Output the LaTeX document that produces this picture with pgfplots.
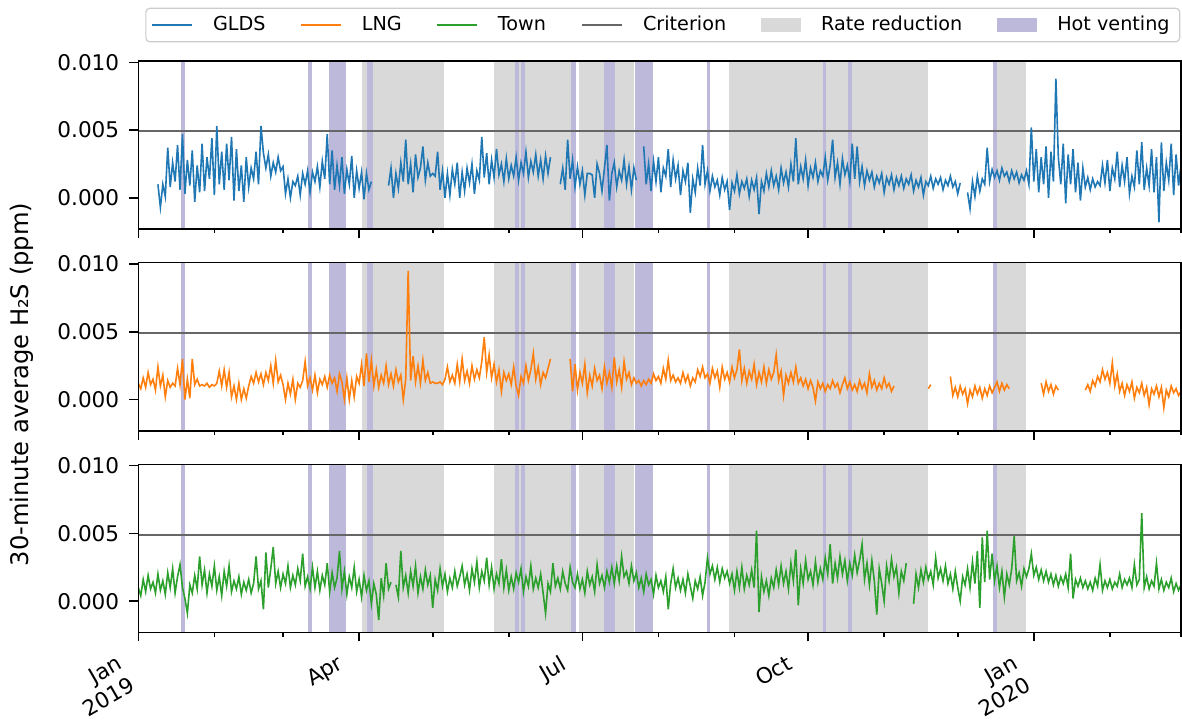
\documentclass[border=0pt]{standalone}
\usepackage{fontspec}
\setmainfont{DejaVu Sans}
\usepackage{pgfplots}
\usepackage{pgfplotstable}
\pgfplotsset{compat=1.18}

\definecolor{gldsblue}{HTML}{1F77B4}
\definecolor{lngorange}{HTML}{FF7F0E}
\definecolor{towngreen}{HTML}{2CA02C}
\definecolor{critgrey}{HTML}{666666}
\definecolor{ratefill}{HTML}{D9D9D9}
\definecolor{hotfill}{HTML}{BDB9DB}

% Daily 30-minute H2S levels (ppm); day 0 = 1 Jan 2019
\pgfplotstableread{
d g l t
0 nan 1.2e-3 1.0e-3
1 nan 0.8e-3 0.4e-3
2 nan 1.6e-3 1.6e-3
3 nan 0.9e-3 0.7e-3
4 nan 2.0e-3 1.9e-3
5 nan 1.1e-3 0.9e-3
6 nan 1.5e-3 1.4e-3
7 nan 0.7e-3 0.6e-3
8 1.0e-3 2.4e-3 2.0e-3
9 -0.7e-3 1.0e-3 0.8e-3
10 1.0e-3 1.8e-3 1.5e-3
11 0.1e-3 0.2e-3 0.5e-3
12 3.7e-3 1.4e-3 2.1e-3
13 0.8e-3 0.9e-3 1.0e-3
14 2.6e-3 1.2e-3 2.4e-3
15 1.2e-3 1.0e-3 0.6e-3
16 3.9e-3 2.3e-3 1.8e-3
17 0.6e-3 1.1e-3 2.7e-3
18 4.7e-3 3.0e-3 1.0e-3
19 0.3e-3 0.0e-3 0.2e-3
20 2.8e-3 1.5e-3 -0.9e-3
21 0.9e-3 0.1e-3 1.2e-3
22 3.5e-3 3.0e-3 0.6e-3
23 -0.3e-3 1.1e-3 1.9e-3
24 2.4e-3 1.5e-3 0.9e-3
25 0.4e-3 1.0e-3 3.3e-3
26 4.0e-3 1.1e-3 1.2e-3
27 0.5e-3 1.0e-3 2.3e-3
28 3.0e-3 1.2e-3 0.6e-3
29 1.4e-3 0.9e-3 2.0e-3
30 4.4e-3 1.1e-3 1.1e-3
31 0.2e-3 1.0e-3 2.6e-3
32 5.3e-3 1.2e-3 0.8e-3
33 1.0e-3 2.1e-3 1.8e-3
34 3.4e-3 1.0e-3 0.4e-3
35 0.6e-3 2.2e-3 2.2e-3
36 4.0e-3 0.9e-3 1.1e-3
37 1.3e-3 2.0e-3 2.6e-3
38 4.5e-3 0.2e-3 0.7e-3
39 -0.2e-3 1.0e-3 1.5e-3
40 3.6e-3 0.0e-3 0.9e-3
41 0.5e-3 1.2e-3 1.8e-3
42 2.4e-3 0.0e-3 0.5e-3
43 -0.3e-3 0.8e-3 1.4e-3
44 3.0e-3 0.1e-3 0.8e-3
45 0.8e-3 1.0e-3 1.6e-3
46 2.2e-3 1.7e-3 0.6e-3
47 1.4e-3 1.2e-3 1.3e-3
48 3.4e-3 2.0e-3 3.3e-3
49 1.0e-3 1.3e-3 0.9e-3
50 5.3e-3 1.9e-3 1.5e-3
51 3.3e-3 1.1e-3 -0.6e-3
52 2.2e-3 2.0e-3 3.6e-3
53 3.2e-3 1.4e-3 1.0e-3
54 1.6e-3 2.5e-3 2.4e-3
55 2.6e-3 1.2e-3 4.0e-3
56 1.9e-3 2.9e-3 1.3e-3
57 3.0e-3 1.3e-3 2.2e-3
58 2.0e-3 1.8e-3 1.0e-3
59 2.3e-3 1.1e-3 2.0e-3
60 0.3e-3 0.0e-3 1.3e-3
61 1.4e-3 1.2e-3 2.6e-3
62 0.0e-3 0.4e-3 1.0e-3
63 1.2e-3 1.5e-3 1.9e-3
64 0.9e-3 0.0e-3 1.2e-3
65 1.6e-3 1.2e-3 2.4e-3
66 0.2e-3 0.9e-3 1.5e-3
67 1.8e-3 1.4e-3 3.5e-3
68 1.0e-3 2.8e-3 1.1e-3
69 2.0e-3 1.0e-3 1.8e-3
70 0.4e-3 1.6e-3 0.9e-3
71 1.9e-3 0.7e-3 2.5e-3
72 1.2e-3 1.8e-3 1.0e-3
73 2.3e-3 0.5e-3 2.2e-3
74 0.8e-3 1.5e-3 0.8e-3
75 2.7e-3 1.1e-3 1.9e-3
76 1.4e-3 1.7e-3 1.2e-3
77 4.7e-3 0.9e-3 2.8e-3
78 1.0e-3 1.8e-3 0.7e-3
79 3.5e-3 1.2e-3 2.1e-3
80 0.6e-3 1.6e-3 1.0e-3
81 2.4e-3 0.6e-3 1.7e-3
82 0.9e-3 1.9e-3 3.7e-3
83 3.0e-3 1.3e-3 0.9e-3
84 0.3e-3 0.0e-3 2.2e-3
85 2.1e-3 1.6e-3 0.5e-3
86 1.0e-3 0.0e-3 1.8e-3
87 3.1e-3 1.4e-3 1.0e-3
88 0.0e-3 0.2e-3 2.5e-3
89 2.0e-3 1.7e-3 0.7e-3
90 0.7e-3 1.2e-3 1.6e-3
91 1.9e-3 2.6e-3 0.3e-3
92 -0.1e-3 1.0e-3 1.9e-3
93 1.8e-3 3.4e-3 0.8e-3
94 0.6e-3 1.3e-3 1.5e-3
95 1.2e-3 2.9e-3 -0.2e-3
96 nan 1.0e-3 1.3e-3
97 nan 2.2e-3 0.5e-3
98 nan 0.9e-3 -1.4e-3
99 nan 1.8e-3 1.7e-3
100 nan 1.2e-3 0.4e-3
101 nan 2.5e-3 2.8e-3
102 0.9e-3 1.1e-3 0.9e-3
103 2.2e-3 1.9e-3 1.4e-3
104 0.0e-3 1.0e-3 nan
105 1.8e-3 2.2e-3 1.2e-3
106 0.7e-3 1.3e-3 0.3e-3
107 2.6e-3 1.8e-3 3.7e-3
108 1.2e-3 0.0e-3 1.0e-3
109 4.3e-3 1.5e-3 1.9e-3
110 1.0e-3 9.5e-3 0.6e-3
111 2.5e-3 1.4e-3 2.2e-3
112 0.4e-3 3.2e-3 1.1e-3
113 3.2e-3 1.3e-3 2.6e-3
114 1.5e-3 2.5e-3 0.6e-3
115 2.2e-3 1.2e-3 1.8e-3
116 3.8e-3 2.9e-3 0.9e-3
117 1.3e-3 1.4e-3 2.3e-3
118 2.6e-3 2.0e-3 1.2e-3
119 1.6e-3 1.2e-3 1.9e-3
120 1.8e-3 1.3e-3 -0.5e-3
121 1.6e-3 1.2e-3 1.6e-3
122 3.4e-3 1.2e-3 0.8e-3
123 0.6e-3 1.3e-3 2.4e-3
124 2.0e-3 1.1e-3 1.1e-3
125 0.0e-3 1.5e-3 2.0e-3
126 1.8e-3 2.4e-3 0.7e-3
127 0.2e-3 1.3e-3 1.7e-3
128 2.1e-3 1.8e-3 1.0e-3
129 1.0e-3 1.2e-3 2.2e-3
130 2.6e-3 2.6e-3 1.1e-3
131 0.0e-3 1.3e-3 1.8e-3
132 1.9e-3 3.0e-3 2.6e-3
133 0.5e-3 1.4e-3 1.2e-3
134 2.2e-3 2.1e-3 2.0e-3
135 1.1e-3 1.2e-3 0.8e-3
136 2.5e-3 2.5e-3 2.4e-3
137 0.3e-3 1.5e-3 1.4e-3
138 2.0e-3 2.2e-3 2.9e-3
139 1.3e-3 1.6e-3 1.0e-3
140 4.5e-3 2.8e-3 2.2e-3
141 1.5e-3 4.6e-3 1.5e-3
142 3.3e-3 2.0e-3 3.2e-3
143 1.0e-3 3.3e-3 1.2e-3
144 2.8e-3 1.6e-3 2.5e-3
145 1.5e-3 2.6e-3 0.9e-3
146 3.6e-3 1.3e-3 2.0e-3
147 1.7e-3 2.2e-3 1.3e-3
148 2.5e-3 0.6e-3 3.1e-3
149 1.2e-3 2.0e-3 1.0e-3
150 2.9e-3 1.4e-3 2.3e-3
151 1.4e-3 1.9e-3 0.8e-3
152 2.4e-3 1.1e-3 1.8e-3
153 1.6e-3 2.4e-3 0.9e-3
154 3.0e-3 1.0e-3 2.1e-3
155 1.3e-3 0.3e-3 1.4e-3
156 2.6e-3 1.7e-3 2.4e-3
157 1.8e-3 1.2e-3 0.7e-3
158 3.4e-3 2.5e-3 1.8e-3
159 1.5e-3 1.4e-3 1.1e-3
160 2.7e-3 2.2e-3 2.6e-3
161 1.9e-3 3.4e-3 0.9e-3
162 3.2e-3 1.5e-3 1.7e-3
163 1.6e-3 2.4e-3 1.0e-3
164 2.8e-3 1.1e-3 2.0e-3
165 1.4e-3 2.0e-3 0.6e-3
166 3.1e-3 1.6e-3 -0.9e-3
167 1.8e-3 2.3e-3 1.3e-3
168 3.0e-3 3.0e-3 0.7e-3
169 nan nan 2.8e-3
170 nan nan 1.1e-3
171 nan nan 1.7e-3
172 1.0e-3 nan 0.9e-3
173 2.2e-3 nan 2.2e-3
174 0.6e-3 nan 1.3e-3
175 4.3e-3 nan 0.8e-3
176 1.4e-3 3.0e-3 2.5e-3
177 2.8e-3 0.6e-3 1.4e-3
178 0.8e-3 2.6e-3 1.0e-3
179 2.3e-3 0.7e-3 2.0e-3
180 1.0e-3 2.0e-3 0.9e-3
181 2.0e-3 1.2e-3 1.6e-3
182 0.2e-3 2.6e-3 0.6e-3
183 1.8e-3 0.5e-3 2.2e-3
184 1.8e-3 1.8e-3 1.2e-3
185 1.7e-3 1.0e-3 1.8e-3
186 0.0e-3 2.3e-3 0.7e-3
187 2.5e-3 1.4e-3 2.7e-3
188 1.8e-3 1.8e-3 1.3e-3
189 0.5e-3 0.8e-3 1.9e-3
190 2.2e-3 2.4e-3 1.0e-3
191 3.9e-3 1.2e-3 2.2e-3
192 -0.2e-3 2.0e-3 1.4e-3
193 1.8e-3 0.9e-3 2.5e-3
194 2.6e-3 3.1e-3 1.3e-3
195 0.8e-3 1.3e-3 2.6e-3
196 2.0e-3 2.2e-3 1.5e-3
197 1.3e-3 0.9e-3 3.3e-3
198 2.8e-3 2.8e-3 1.8e-3
199 1.0e-3 1.5e-3 2.2e-3
200 2.3e-3 2.0e-3 1.3e-3
201 0.6e-3 1.1e-3 2.6e-3
202 2.2e-3 1.6e-3 1.5e-3
203 1.3e-3 1.2e-3 2.1e-3
204 nan 1.4e-3 1.0e-3
205 nan 1.0e-3 1.7e-3
206 3.8e-3 1.4e-3 0.7e-3
207 1.0e-3 1.1e-3 2.0e-3
208 2.5e-3 1.5e-3 1.2e-3
209 0.5e-3 1.2e-3 1.6e-3
210 2.7e-3 1.9e-3 0.5e-3
211 1.2e-3 1.4e-3 1.9e-3
212 3.0e-3 1.7e-3 1.0e-3
213 0.4e-3 1.2e-3 1.5e-3
214 2.2e-3 2.3e-3 0.7e-3
215 1.6e-3 1.5e-3 1.8e-3
216 3.6e-3 2.9e-3 -0.6e-3
217 0.8e-3 1.4e-3 1.3e-3
218 2.8e-3 1.8e-3 2.4e-3
219 1.4e-3 1.3e-3 1.0e-3
220 2.4e-3 1.6e-3 1.7e-3
221 0.2e-3 1.2e-3 0.8e-3
222 2.0e-3 2.0e-3 1.6e-3
223 1.2e-3 1.3e-3 0.6e-3
224 2.6e-3 1.8e-3 2.0e-3
225 -1.1e-3 1.0e-3 1.1e-3
226 1.4e-3 1.6e-3 0.2e-3
227 0.4e-3 1.3e-3 1.5e-3
228 2.2e-3 2.2e-3 0.9e-3
229 0.9e-3 1.7e-3 1.8e-3
230 3.9e-3 2.4e-3 0.4e-3
231 1.0e-3 1.6e-3 1.4e-3
232 2.0e-3 1.9e-3 3.2e-3
233 0.5e-3 1.2e-3 2.0e-3
234 1.6e-3 2.3e-3 2.6e-3
235 0.8e-3 1.6e-3 1.6e-3
236 1.3e-3 2.1e-3 2.5e-3
237 0.2e-3 0.9e-3 1.4e-3
238 1.5e-3 2.4e-3 2.4e-3
239 0.6e-3 1.5e-3 1.7e-3
240 1.2e-3 2.0e-3 2.2e-3
241 -0.9e-3 1.3e-3 1.3e-3
242 1.1e-3 2.4e-3 2.0e-3
243 0.5e-3 1.6e-3 0.8e-3
244 1.7e-3 2.2e-3 2.2e-3
245 0.3e-3 3.7e-3 1.0e-3
246 1.2e-3 1.4e-3 2.5e-3
247 0.7e-3 2.3e-3 0.9e-3
248 1.4e-3 1.2e-3 1.9e-3
249 0.1e-3 2.1e-3 1.2e-3
250 1.3e-3 1.5e-3 2.3e-3
251 0.6e-3 2.6e-3 1.0e-3
252 1.5e-3 1.1e-3 5.2e-3
253 -1.2e-3 2.0e-3 -0.8e-3
254 1.2e-3 1.3e-3 1.8e-3
255 0.5e-3 2.4e-3 0.7e-3
256 1.8e-3 1.2e-3 1.5e-3
257 0.8e-3 2.2e-3 0.4e-3
258 2.0e-3 1.5e-3 1.7e-3
259 0.9e-3 2.0e-3 1.0e-3
260 1.6e-3 3.3e-3 2.3e-3
261 0.6e-3 1.4e-3 1.2e-3
262 2.2e-3 2.1e-3 2.6e-3
263 1.1e-3 0.3e-3 1.3e-3
264 1.9e-3 1.8e-3 2.2e-3
265 0.8e-3 1.2e-3 0.9e-3
266 2.5e-3 2.0e-3 2.8e-3
267 1.2e-3 1.3e-3 1.5e-3
268 4.4e-3 2.4e-3 3.8e-3
269 1.0e-3 1.2e-3 -0.3e-3
270 2.3e-3 1.6e-3 2.4e-3
271 1.4e-3 1.0e-3 1.3e-3
272 2.8e-3 1.5e-3 3.0e-3
273 0.9e-3 0.8e-3 1.6e-3
274 2.2e-3 1.4e-3 2.2e-3
275 1.5e-3 0.9e-3 1.2e-3
276 2.6e-3 -0.1e-3 2.9e-3
277 1.2e-3 1.3e-3 1.4e-3
278 2.0e-3 0.8e-3 2.4e-3
279 1.6e-3 1.2e-3 1.6e-3
280 3.0e-3 0.6e-3 3.2e-3
281 1.3e-3 1.1e-3 2.0e-3
282 2.4e-3 0.8e-3 4.2e-3
283 4.3e-3 1.4e-3 1.3e-3
284 1.5e-3 0.9e-3 2.8e-3
285 2.6e-3 1.2e-3 1.7e-3
286 1.0e-3 0.5e-3 3.3e-3
287 2.9e-3 1.1e-3 2.0e-3
288 1.7e-3 1.6e-3 3.0e-3
289 2.4e-3 0.8e-3 1.5e-3
290 1.2e-3 1.3e-3 2.8e-3
291 4.0e-3 0.7e-3 1.9e-3
292 1.4e-3 1.1e-3 3.4e-3
293 3.8e-3 0.6e-3 2.1e-3
294 1.2e-3 1.4e-3 3.0e-3
295 2.3e-3 0.8e-3 4.2e-3
296 0.9e-3 1.2e-3 1.6e-3
297 2.0e-3 0.5e-3 2.8e-3
298 1.3e-3 1.9e-3 1.2e-3
299 1.9e-3 0.9e-3 3.0e-3
300 0.8e-3 1.4e-3 1.5e-3
301 1.6e-3 0.7e-3 -1.0e-3
302 1.1e-3 1.2e-3 2.4e-3
303 1.8e-3 0.8e-3 1.3e-3
304 0.4e-3 1.6e-3 0.0e-3
305 1.5e-3 0.9e-3 2.6e-3
306 1.0e-3 1.2e-3 1.5e-3
307 1.7e-3 0.6e-3 3.1e-3
308 0.6e-3 1.0e-3 1.8e-3
309 1.5e-3 nan 2.5e-3
310 0.9e-3 nan 0.6e-3
311 1.6e-3 nan 2.2e-3
312 0.7e-3 nan 1.5e-3
313 1.4e-3 nan 2.8e-3
314 1.0e-3 nan nan
315 1.7e-3 nan nan
316 0.5e-3 nan -0.2e-3
317 1.3e-3 nan 2.0e-3
318 0.8e-3 nan 1.0e-3
319 1.5e-3 nan 2.3e-3
320 0.2e-3 nan 1.4e-3
321 1.2e-3 nan 2.5e-3
322 0.9e-3 0.8e-3 1.6e-3
323 1.6e-3 1.1e-3 2.2e-3
324 0.7e-3 nan 1.2e-3
325 1.4e-3 nan 3.2e-3
326 1.0e-3 nan 1.7e-3
327 1.5e-3 0.9e-3 2.4e-3
328 0.6e-3 nan 1.5e-3
329 1.3e-3 nan 2.6e-3
330 0.9e-3 nan 1.3e-3
331 1.6e-3 1.7e-3 2.0e-3
332 0.8e-3 0.3e-3 0.9e-3
333 1.2e-3 0.9e-3 2.2e-3
334 0.3e-3 0.2e-3 1.0e-3
335 1.1e-3 1.0e-3 0.0e-3
336 nan 0.4e-3 1.8e-3
337 nan 0.8e-3 1.2e-3
338 0.4e-3 -0.3e-3 2.4e-3
339 -0.8e-3 0.7e-3 1.0e-3
340 1.2e-3 0.2e-3 2.9e-3
341 0.1e-3 1.0e-3 1.3e-3
342 1.6e-3 0.4e-3 3.7e-3
343 0.5e-3 0.9e-3 -0.5e-3
344 1.4e-3 0.1e-3 4.7e-3
345 1.0e-3 0.8e-3 1.4e-3
346 3.7e-3 0.3e-3 5.2e-3
347 1.2e-3 1.0e-3 1.6e-3
348 2.1e-3 0.5e-3 3.5e-3
349 1.5e-3 0.9e-3 1.5e-3
350 2.0e-3 1.3e-3 2.6e-3
351 1.3e-3 0.6e-3 1.0e-3
352 2.2e-3 1.2e-3 2.2e-3
353 1.6e-3 0.7e-3 0.3e-3
354 1.9e-3 1.1e-3 2.0e-3
355 1.2e-3 0.8e-3 1.2e-3
356 2.0e-3 nan 2.4e-3
357 1.4e-3 nan 4.8e-3
358 1.9e-3 nan 1.5e-3
359 1.1e-3 nan 2.1e-3
360 1.7e-3 nan 1.1e-3
361 1.3e-3 nan 2.4e-3
362 2.0e-3 nan 1.8e-3
363 1.0e-3 nan 2.4e-3
364 5.2e-3 nan 3.5e-3
365 1.2e-3 nan 1.9e-3
366 3.6e-3 nan 2.5e-3
367 0.4e-3 nan 1.6e-3
368 3.0e-3 1.2e-3 2.3e-3
369 1.0e-3 0.4e-3 1.5e-3
370 3.8e-3 1.3e-3 2.2e-3
371 0.0e-3 0.6e-3 1.4e-3
372 3.4e-3 1.1e-3 2.0e-3
373 1.2e-3 0.4e-3 1.2e-3
374 8.8e-3 1.0e-3 1.9e-3
375 3.0e-3 0.7e-3 1.1e-3
376 1.0e-3 nan 1.8e-3
377 4.0e-3 nan 1.3e-3
378 -0.4e-3 nan 2.0e-3
379 3.2e-3 nan 1.0e-3
380 1.0e-3 nan 3.5e-3
381 3.6e-3 nan 0.2e-3
382 0.4e-3 nan 1.6e-3
383 2.6e-3 nan 1.1e-3
384 -0.2e-3 nan 1.7e-3
385 2.2e-3 nan 1.0e-3
386 0.8e-3 0.7e-3 1.5e-3
387 1.5e-3 1.1e-3 0.9e-3
388 0.6e-3 0.6e-3 1.4e-3
389 1.4e-3 1.4e-3 0.8e-3
390 0.8e-3 1.0e-3 1.7e-3
391 1.2e-3 1.7e-3 1.1e-3
392 0.9e-3 1.3e-3 2.7e-3
393 2.4e-3 2.2e-3 0.8e-3
394 1.1e-3 1.5e-3 1.5e-3
395 2.8e-3 2.0e-3 1.0e-3
396 0.5e-3 1.2e-3 1.6e-3
397 2.2e-3 2.7e-3 0.9e-3
398 1.4e-3 1.0e-3 1.4e-3
399 3.4e-3 1.9e-3 1.1e-3
400 0.8e-3 0.6e-3 2.0e-3
401 2.4e-3 1.2e-3 1.0e-3
402 1.2e-3 0.3e-3 1.6e-3
403 3.0e-3 1.1e-3 1.2e-3
404 0.3e-3 0.6e-3 1.7e-3
405 1.6e-3 1.3e-3 1.0e-3
406 0.8e-3 0.1e-3 2.7e-3
407 3.5e-3 0.9e-3 1.2e-3
408 1.0e-3 0.5e-3 1.6e-3
409 4.1e-3 1.2e-3 6.5e-3
410 0.6e-3 0.3e-3 1.0e-3
411 2.2e-3 0.9e-3 1.8e-3
412 0.9e-3 -0.4e-3 0.9e-3
413 3.6e-3 0.8e-3 1.5e-3
414 0.4e-3 0.4e-3 1.1e-3
415 3.0e-3 1.0e-3 2.8e-3
416 -1.8e-3 0.2e-3 0.9e-3
417 4.1e-3 0.9e-3 1.6e-3
418 0.5e-3 -0.6e-3 0.8e-3
419 2.6e-3 0.7e-3 1.4e-3
420 1.3e-3 0.2e-3 1.0e-3
421 4.0e-3 1.0e-3 1.7e-3
422 0.2e-3 0.5e-3 0.7e-3
423 3.2e-3 0.8e-3 1.3e-3
424 0.9e-3 0.3e-3 0.8e-3
425 2.4e-3 0.6e-3 1.2e-3
}\hsdata

% Operating periods, in days from 1 Jan 2019
\newcommand{\rateband}[2]{\addplot[draw=none, fill=ratefill, forget plot] coordinates {(#1,-0.01) (#1,0.02) (#2,0.02) (#2,-0.01)} -- cycle;}
\newcommand{\hotband}[2]{\addplot[draw=none, fill=hotfill, forget plot] coordinates {(#1,-0.01) (#1,0.02) (#2,0.02) (#2,-0.01)} -- cycle;}
\newcommand{\periods}{%
  \rateband{91.1}{124.8}
  \rateband{144.8}{178.4}
  \rateband{179.7}{201.9}
  \rateband{240.9}{321.9}
  \rateband{348.4}{361.9}
  \hotband{17.5}{18.9}
  \hotband{69.3}{70.7}
  \hotband{77.9}{84.7}
  \hotband{93.1}{95.6}
  \hotband{153.6}{155.3}
  \hotband{156.0}{157.7}
  \hotband{176.3}{178.4}
  \hotband{189.8}{194.1}
  \hotband{202.4}{209.6}
  \hotband{231.8}{233.0}
  \hotband{279.1}{280.5}
  \hotband{289.2}{290.9}
  \hotband{348.4}{350.2}
  \addplot[critgrey, line width=1pt, forget plot] coordinates {(0,0.0049) (425,0.0049)};
}

\pgfplotsset{
  panel/.style={
    scale only axis, width=521.35pt, height=84pt,
    xmin=0, xmax=425, ymin=-0.0023, ymax=0.0101,
    axis on top,
    xtick={0,90,181,273,365},
    minor xtick={31,59,120,151,212,243,304,334,396,425},
    xticklabels={},
    ytick={0,0.005,0.01},
    scaled y ticks=false,
    yticklabel style={/pgf/number format/.cd, fixed, fixed zerofill, precision=3, /tikz/.cd, xshift=-1.5pt},
    /pgf/number format/assume math mode=true,
    tick align=outside, xtick pos=bottom, ytick pos=left,
    major tick length=4.5pt, minor tick length=2.2pt,
    every tick/.style={black, line width=0.8pt},
    axis line style={line width=0.8pt},
    tick label style={font=\fontsize{10.8}{13}\selectfont},
    unbounded coords=jump,
  },
  series/.style={line width=0.8pt, forget plot},
  lineleg/.style={legend image code/.code={\draw[##1] (0pt,0pt) -- (20pt,0pt);}},
  patchleg/.style={legend image code/.code={\path[##1, draw=none, sharp corners] (0pt,-3.6pt) rectangle (20pt,3.6pt);}},
}

\begin{document}
\begin{tikzpicture}
% top panel: GLDS, carries the shared legend
\begin{axis}[panel, at={(69.15pt,-30.5pt)}, anchor=north west,
  legend columns=6,
  legend style={at={(0.503,1.214)}, anchor=center, draw=black!20, rounded corners=2pt,
    line width=0.6pt, font=\fontsize{9.6}{11}\selectfont,
    /tikz/every odd column/.append style={column sep=8pt},
    /tikz/every even column/.append style={column sep=15.5pt}},
  legend cell align=left]
  \periods
  \addplot[series, gldsblue] table[x=d, y=g] {\hsdata};
  \addlegendimage{gldsblue, line width=0.6pt, lineleg}
  \addlegendentry{GLDS}
  \addlegendimage{lngorange, line width=0.6pt, lineleg}
  \addlegendentry{LNG}
  \addlegendimage{towngreen, line width=0.6pt, lineleg}
  \addlegendentry{Town}
  \addlegendimage{critgrey, line width=1pt, lineleg}
  \addlegendentry{Criterion}
  \addlegendimage{fill=ratefill, patchleg}
  \addlegendentry{Rate reduction}
  \addlegendimage{fill=hotfill, patchleg}
  \addlegendentry{Hot venting}
\end{axis}
% middle panel: LNG
\begin{axis}[panel, at={(69.15pt,-131.35pt)}, anchor=north west]
  \periods
  \addplot[series, lngorange] table[x=d, y=l] {\hsdata};
\end{axis}
% bottom panel: Town, with the date labels
\begin{axis}[panel, at={(69.15pt,-232.15pt)}, anchor=north west,
  xticklabels={{Jan\\2019},Apr,Jul,Oct,{Jan\\2020}},
  xticklabel style={xshift=-10pt, yshift=-1.5pt, rotate=30, anchor=north east, align=right}]
  \periods
  \addplot[series, towngreen] table[x=d, y=t] {\hsdata};
\end{axis}
\node[rotate=90, font=\fontsize{12.1}{14}\selectfont] at (11pt,-192.25pt) {30-minute average H₂S (ppm)};
\pgfresetboundingbox
\useasboundingbox (0,0) rectangle (591pt,-361pt);
\end{tikzpicture}
\end{document}
